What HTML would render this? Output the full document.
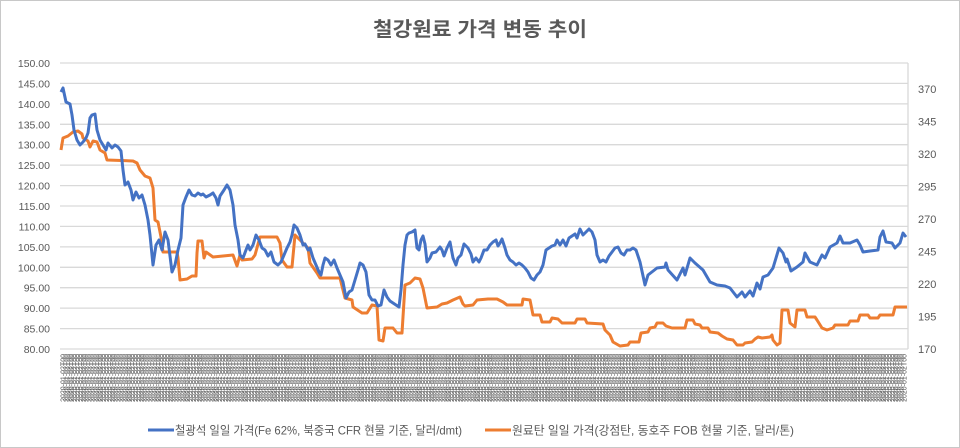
<!DOCTYPE html>
<html><head><meta charset="utf-8">
<style>
html,body{margin:0;padding:0;background:#fff;}
svg{display:block;font-family:"Liberation Sans","Noto Sans CJK KR",sans-serif;}
</style></head>
<body>
<svg id="c" width="960" height="448" viewBox="0 0 960 448" xmlns="http://www.w3.org/2000/svg">
<rect x="0.5" y="0.5" width="959" height="447" fill="#fff" stroke="#c8c8c8"/>
<text x="480" y="36" text-anchor="middle" font-size="20" font-weight="bold" fill="#595959" textLength="214" lengthAdjust="spacingAndGlyphs">철강원료 가격 변동 추이</text>
<g stroke="#d9d9d9" stroke-width="1.3">
<line x1="60" x2="908" y1="63" y2="63"/><line x1="60" x2="908" y1="83.4" y2="83.4"/><line x1="60" x2="908" y1="103.9" y2="103.9"/><line x1="60" x2="908" y1="124.3" y2="124.3"/><line x1="60" x2="908" y1="144.7" y2="144.7"/><line x1="60" x2="908" y1="165.1" y2="165.1"/><line x1="60" x2="908" y1="185.6" y2="185.6"/><line x1="60" x2="908" y1="206" y2="206"/><line x1="60" x2="908" y1="226.4" y2="226.4"/><line x1="60" x2="908" y1="246.9" y2="246.9"/><line x1="60" x2="908" y1="267.3" y2="267.3"/><line x1="60" x2="908" y1="287.7" y2="287.7"/><line x1="60" x2="908" y1="308.1" y2="308.1"/><line x1="60" x2="908" y1="328.6" y2="328.6"/><line x1="60" x2="908" y1="349" y2="349"/>
<line x1="908" x2="908" y1="63" y2="349"/>
</g>
<g font-size="10.5" fill="#595959" text-anchor="end">
<text x="50" y="67">150.00</text><text x="50" y="87.4">145.00</text><text x="50" y="107.9">140.00</text><text x="50" y="128.3">135.00</text><text x="50" y="148.7">130.00</text><text x="50" y="169.1">125.00</text><text x="50" y="189.6">120.00</text><text x="50" y="210">115.00</text><text x="50" y="230.4">110.00</text><text x="50" y="250.9">105.00</text><text x="50" y="271.3">100.00</text><text x="50" y="291.7">95.00</text><text x="50" y="312.1">90.00</text><text x="50" y="332.6">85.00</text><text x="50" y="353">80.00</text>
</g>
<g font-size="11" fill="#595959">
<text x="918" y="353">170</text><text x="918" y="320.5">195</text><text x="918" y="288">220</text><text x="918" y="255.5">245</text><text x="918" y="223">270</text><text x="918" y="190.5">295</text><text x="918" y="158">320</text><text x="918" y="125.5">345</text><text x="918" y="93">370</text>
</g>
<g id="dates" font-size="7" fill="#555"></g>
<polyline fill="none" stroke="#ed7d31" stroke-width="3" stroke-linejoin="round" points="61,150 63,138 68,136 73,132 78,131 82,134 83,138 88,141 90,147 93,141 97,142 100,150 105,153 107,160 133,161 137,163 140,170 145,176 150,178 153,188 155,220 158,222 161,237 163,252 177,252 178,258 180,280 187,279 192,276 196,276 197,253 198,241 202,241 204,258 206,252 213,257 233,255 237,266 240,255 242,260 252,259 255,255 260,237 277,237 280,243 282,260 287,267 292,267 295,235 303,243 308,248 310,263 317,273 320,278 340,278 343,290 345,298 352,300 353,307 362,313 367,313 372,305 377,306 379,340 383,341 385,328 393,328 397,333 402,333 405,285 410,283 415,278 420,279 423,288 427,308 437,307 442,304 447,303 453,300 460,297 463,304 465,306 473,305 477,300 488,299 497,299 503,302 507,305 522,305 523,299 530,300 533,315 540,315 542,322 550,322 552,318 558,319 562,323 575,323 577,319 585,319 587,323 603,324 605,330 610,335 613,342 620,346 628,345 630,342 639,342 641,333 648,332 650,328 655,327 657,323 663,323 666,326 672,328 685,328 687,320 693,320 695,324 700,325 702,328 708,328 710,332 718,333 722,336 727,339 733,340 737,345 743,345 745,343 752,342 755,339 758,337 762,338 770,337 772,335 773,340 777,345 780,343 782,310 788,310 790,323 795,327 797,310 805,310 807,317 815,317 817,320 822,328 827,330 833,328 835,325 848,325 850,321 858,321 860,315 868,315 870,318 878,318 880,315 893,315 895,307 907,307"/>
<polyline fill="none" stroke="#4472c4" stroke-width="3" stroke-linejoin="round" points="61,92 63,88 66,102 70,104 72,115 74,130 77,140 80,145 83,142 86,138 88,133 90,118 92,115 95,114 97,130 100,140 103,145 106,150 108,143 112,148 115,145 118,147 121,151 123,170 125,185 128,182 131,190 133,200 136,192 139,198 142,195 145,205 148,220 150,235 153,265 156,245 159,240 162,250 165,232 168,240 172,272 175,265 178,250 181,238 183,205 186,197 189,190 192,195 195,196 198,193 201,195 203,194 206,197 210,195 213,193 216,198 218,205 220,196 224,190 227,185 230,190 233,205 235,225 238,240 240,255 243,258 246,250 248,245 250,250 253,245 256,235 259,240 262,248 265,250 268,256 271,252 274,262 278,265 281,262 284,255 287,248 290,242 292,235 294,225 297,228 300,235 303,245 305,244 308,250 310,248 313,258 316,265 319,272 321,275 323,265 325,258 328,260 331,265 334,260 337,268 340,275 343,282 346,298 349,292 352,290 355,280 358,270 360,263 363,265 366,272 369,295 372,300 375,300 378,306 381,305 384,290 387,297 390,301 393,303 396,305 399,307 401,290 403,265 405,245 407,235 409,233 412,232 415,230 417,248 419,250 421,240 423,236 425,244 427,262 430,258 432,253 436,252 440,247 442,250 444,256 447,248 450,242 453,258 456,265 458,258 461,255 464,244 468,248 471,254 473,262 476,258 479,262 481,258 484,250 487,250 490,245 493,242 496,240 498,246 500,243 502,239 505,248 507,255 510,260 513,262 516,265 519,263 522,265 525,268 528,272 531,278 534,280 537,275 540,272 543,265 546,250 549,248 552,246 555,245 557,240 560,245 563,240 566,246 569,238 572,236 575,234 577,238 580,229 583,235 586,232 589,229 592,232 595,240 597,255 600,262 603,260 606,262 609,256 612,252 615,248 618,247 621,253 624,255 627,250 630,250 633,248 636,250 640,262 645,285 648,275 657,268 665,267 666,263 668,270 677,280 683,268 685,275 690,258 695,263 703,270 710,282 717,285 725,286 730,288 737,297 742,292 745,297 750,291 753,296 757,283 760,289 763,277 768,275 773,268 779,248 783,253 786,262 787,259 791,271 797,267 803,262 805,253 810,262 817,265 822,255 825,258 830,247 837,243 840,236 843,243 850,243 857,240 860,245 863,252 870,251 878,250 880,237 883,231 886,242 892,243 895,248 900,243 903,233 906,237"/>
<line x1="148" x2="174" y1="430" y2="430" stroke="#4472c4" stroke-width="3"/>
<text x="175" y="434.5" font-size="12" fill="#595959" textLength="287" lengthAdjust="spacingAndGlyphs">철광석 일일 가격(Fe 62%, 북중국 CFR 현물 기준, 달러/dmt)</text>
<line x1="485" x2="511" y1="430" y2="430" stroke="#ed7d31" stroke-width="3"/>
<text x="512" y="434.5" font-size="12" fill="#595959" textLength="282" lengthAdjust="spacingAndGlyphs">원료탄 일일 가격(강점탄, 동호주 FOB 현물 기준, 달러/톤)</text>
</svg>
<script>
var g=document.getElementById('dates'),s='';
for(var x=63;x<=906;x+=2.9){
 s+='<text transform="translate('+(x+2.5).toFixed(1)+',354) rotate(-90)" text-anchor="end">2020-01-02T00</text>';
}
g.innerHTML=s;
</script>
</body></html>
